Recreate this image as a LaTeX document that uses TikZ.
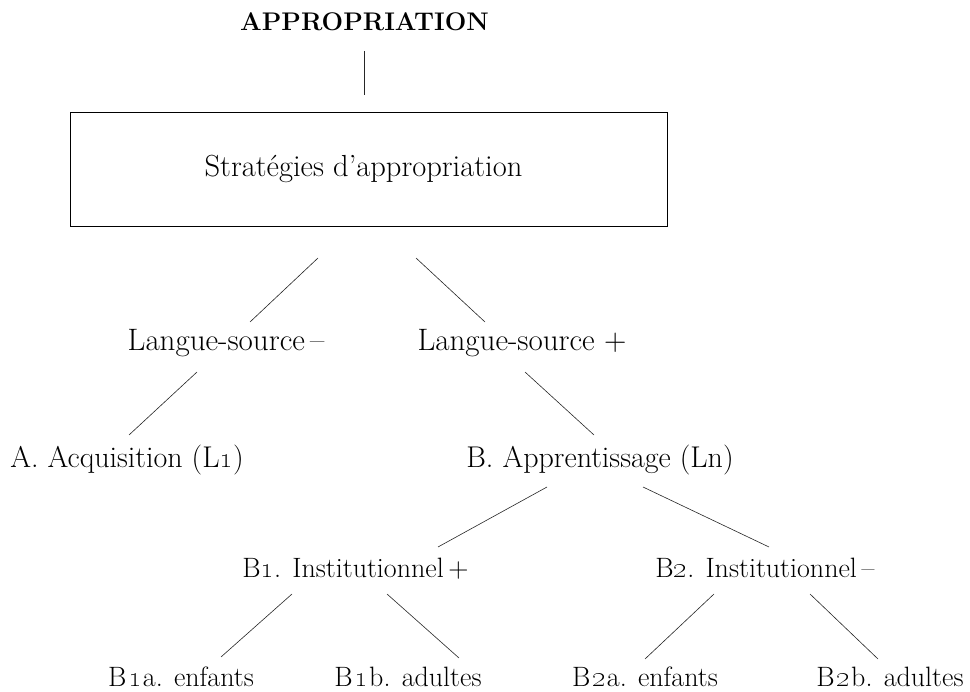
\documentclass[tikz,border=0pt]{standalone}
\begin{document}
\begin{tikzpicture}[x=1pt,y=-1pt,
  big/.style={inner sep=0pt,anchor=base,font=\fontsize{30}{33}\selectfont},
  small/.style={inner sep=0pt,anchor=base,font=\fontsize{28}{31}\selectfont},
  conn/.style={line width=0.6pt,black!85}]
\useasboundingbox (0,0) rectangle (970,692);
\node[inner sep=0pt,anchor=base,font=\fontsize{25.5}{28}\selectfont\bfseries] (app) at (364.5,31) {APPROPRIATION};
\node[draw,line width=0.8pt,minimum width=597pt,minimum height=114pt,inner sep=0pt,font=\fontsize{30.5}{33}\selectfont] (box) at (368.5,169) {Stratégies d'appropriation\hspace*{10pt}};
\node[big,font=\fontsize{31}{34}\selectfont] (ls1) at (226,351) {Langue-source\,--};
\node[big,font=\fontsize{31}{34}\selectfont] (ls2) at (522,351) {Langue-source +};
\node[big] (A) at (127,468) {A. Acquisition (L\oldstylenums{1})};
\node[big] (B) at (600,468) {B. Apprentissage (Ln)};
\node[small] (B1) at (355.5,577) {B\oldstylenums{1}. Institutionnel\,+};
\node[small] (B2) at (765,577) {B\oldstylenums{2}. Institutionnel\,--};
\node[small] (B1a) at (181,686) {B\kern2pt\oldstylenums{1}\kern1pt a. enfants};
\node[small] (B1b) at (408,686) {B\kern2pt\oldstylenums{1}\kern1pt b. adultes};
\node[small] (B2a) at (645,686) {B\kern2pt\oldstylenums{2}\kern1pt a. enfants};
\node[small] (B2b) at (890,686) {B\kern2pt\oldstylenums{2}\kern1pt b. adultes};
\draw[conn] ([shift={(-0.5,20)}]app.base) -- ([shift={(-4.5,-74)}]box.center);
\draw[conn] ([shift={(-50.5,89)}]box.center) -- ([shift={(24,-29)}]ls1.base);
\draw[conn] ([shift={(47.5,89)}]box.center) -- ([shift={(-37,-29)}]ls2.base);
\draw[conn] ([shift={(-29,21)}]ls1.base) -- ([shift={(2,-33)}]A.base);
\draw[conn] ([shift={(3,21)}]ls2.base) -- ([shift={(-6,-33)}]B.base);
\draw[conn] ([shift={(-53,19)}]B.base) -- ([shift={(82.5,-30)}]B1.base);
\draw[conn] ([shift={(43,19)}]B.base) -- ([shift={(4,-30)}]B2.base);
\draw[conn] ([shift={(-63.5,17)}]B1.base) -- ([shift={(40,-29)}]B1a.base);
\draw[conn] ([shift={(31.5,17)}]B1.base) -- ([shift={(51,-28)}]B1b.base);
\draw[conn] ([shift={(-51,17)}]B2.base) -- ([shift={(0,-27)}]B2a.base);
\draw[conn] ([shift={(45,17)}]B2.base) -- ([shift={(-12,-27)}]B2b.base);
\end{tikzpicture}
\end{document}
